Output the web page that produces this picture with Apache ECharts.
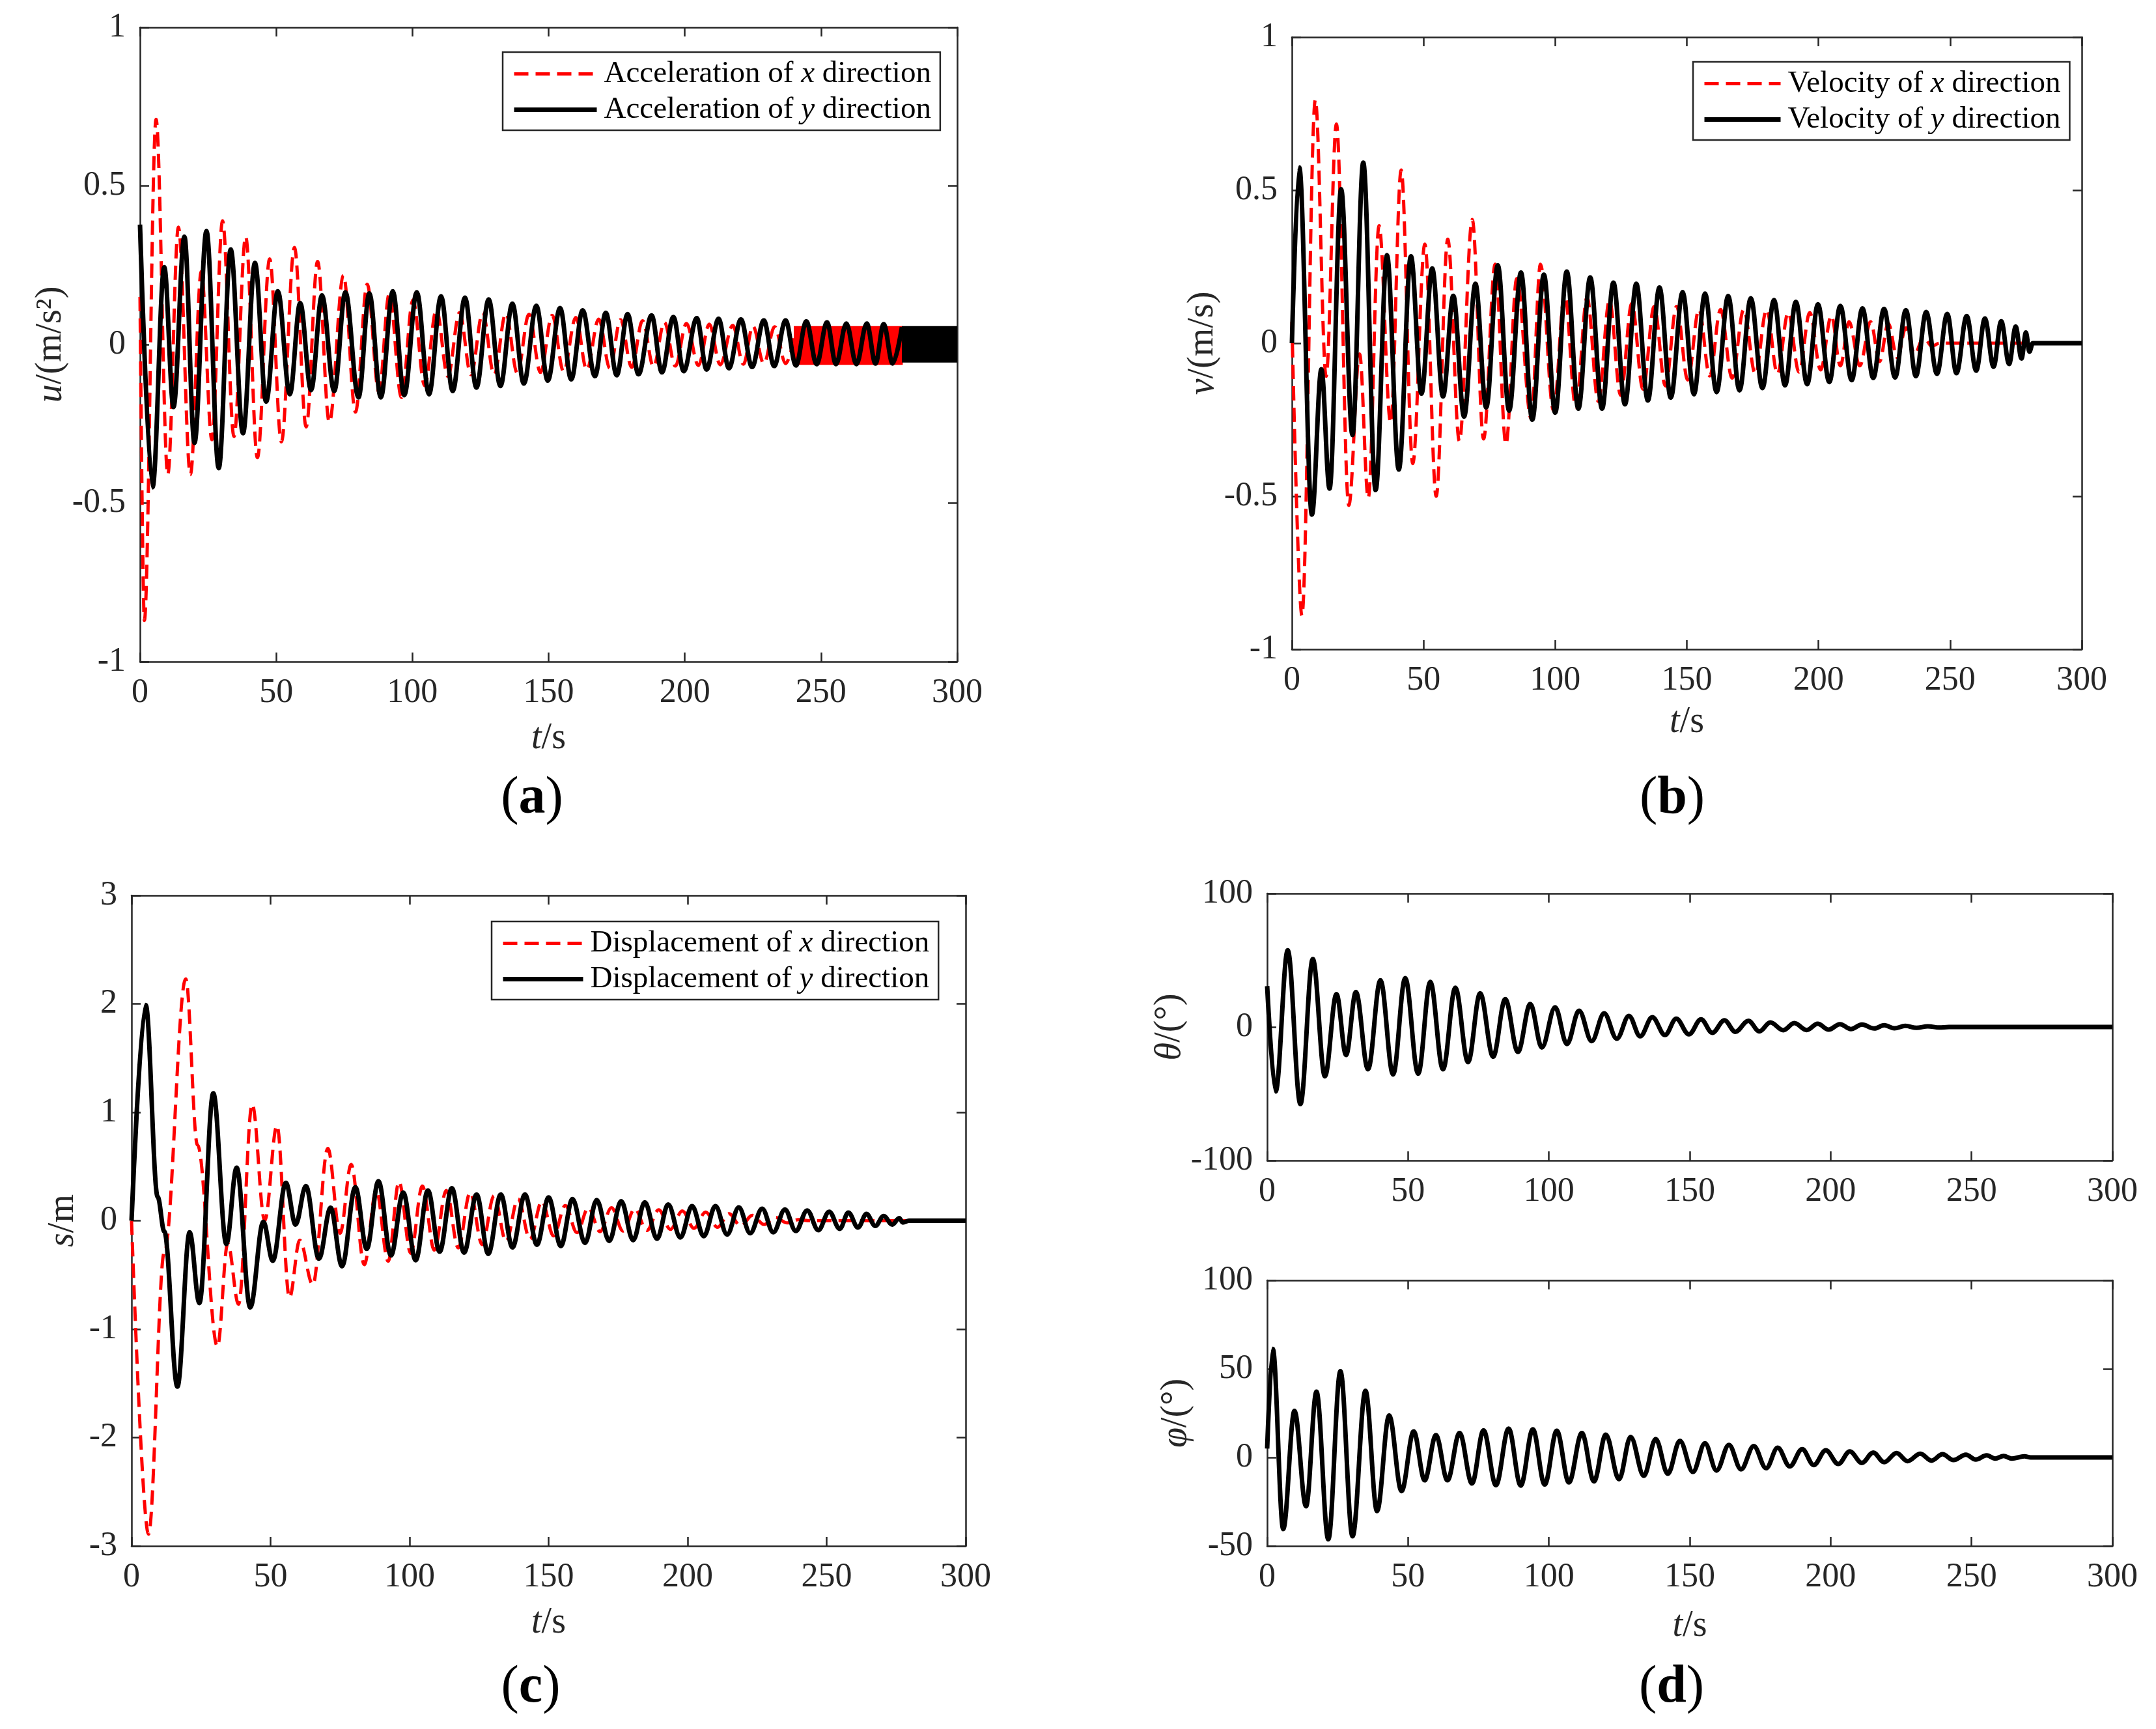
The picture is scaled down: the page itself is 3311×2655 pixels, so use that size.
<!DOCTYPE html>
<html>
<head>
<meta charset="utf-8">
<script src="https://cdn.jsdelivr.net/npm/echarts@6/dist/echarts.min.js"></script>
<style>
  html, body { margin: 0; padding: 0; background: #fff; }
  #main { width: 3311px; height: 2655px; }
</style>
</head>
<body>
<div id="main"></div>
<script>
// time axis ticks (s)
var timeTicks = [0, 50, 100, 150, 200, 250, 300];

// (a) acceleration, extrema
var accYTime = [0, 4.6, 8.9, 12.3, 16.3, 20.0, 24.4, 28.9, 33.3, 37.8,
  42.2, 46.3, 50.6, 55.0, 58.8, 62.8, 66.8, 71.3, 75.4, 80.2,
  84.2, 88.4, 92.8, 97.0, 101.6, 106.1, 110.5, 114.8, 119.3, 123.5,
  128.0, 132.3, 136.7, 140.9, 145.5, 149.7, 154.2, 158.3, 162.5, 167.0,
  171.0, 175.0, 179.0, 183.0, 187.8, 191.6, 195.8, 199.6, 204.4, 208.0,
  212.4, 216.2, 220.6, 224.7, 229.0, 232.8, 237.0, 240.8, 244.6, 248.4,
  252.2, 255.5, 259.3, 263.0, 266.8, 270.0, 273.0, 276.3, 279.7];
var accYVal = [0.378, -0.45, 0.244, -0.197, 0.34, -0.31, 0.358, -0.39, 0.30, -0.28,
  0.257, -0.18, 0.168, -0.157, 0.131, -0.144, 0.155, -0.147, 0.165, -0.167,
  0.161, -0.167, 0.168, -0.16, 0.165, -0.157, 0.152, -0.147, 0.148, -0.136,
  0.142, -0.131, 0.129, -0.123, 0.122, -0.114, 0.115, -0.11, 0.108, -0.10,
  0.10, -0.097, 0.096, -0.094, 0.092, -0.088, 0.087, -0.084, 0.083, -0.079,
  0.081, -0.075, 0.079, -0.071, 0.076, -0.068, 0.076, -0.066, 0.073, -0.062,
  0.07, -0.062, 0.066, -0.062, 0.066, -0.06, 0.064, -0.06, 0.055];
var accXTime = [0, 1.6, 5.9, 10.2, 14.1, 18.5, 22.5, 26.4, 30.3, 34.5,
  38.8, 43.1, 47.6, 51.9, 56.7, 61.0, 65.2, 69.5, 74.7, 79.1,
  83.4, 87.7, 91.5, 96.0, 100.2, 104.5, 108.8, 113.0, 117.3, 121.5,
  125.8, 130.0, 134.3, 138.5, 142.8, 147.0, 151.3, 155.5, 160.0, 164.0,
  168.4, 172.5, 176.4, 180.5, 184.5, 188.5, 192.5, 196.5, 200.6, 205.0,
  209.0, 213.0, 217.6, 221.5, 225.0, 229.0, 233.0, 237.0, 241.0];
var accXVal = [0.15, -0.87, 0.71, -0.41, 0.37, -0.41, 0.23, -0.30, 0.39, -0.29,
  0.34, -0.357, 0.27, -0.307, 0.306, -0.26, 0.262, -0.245, 0.218, -0.213,
  0.19, -0.15, 0.16, -0.167, 0.14, -0.13, 0.11, -0.10, 0.10, -0.095,
  0.10, -0.095, 0.098, -0.09, 0.095, -0.088, 0.092, -0.085, 0.085, -0.08,
  0.08, -0.075, 0.078, -0.072, 0.075, -0.07, 0.07, -0.068, 0.066, -0.066,
  0.064, -0.064, 0.06, -0.062, 0.058, -0.06, 0.056, -0.06, 0.055];
// dense end parts that print as solid bands
var accXBandTime = [240, 280];
var accXBandEdge = [0.056, -0.062];
var accYBandTime = [279.7, 300];
var accYBandEdge = [0.056, -0.055];

// (b) velocity
var velYTime = [0, 2.8, 7.6, 11.2, 14.3, 18.7, 23.0, 27.1, 31.8, 36.1,
  40.6, 45.2, 49.2, 53.3, 57.4, 61.3, 65.4, 69.7, 73.8, 78.2,
  82.5, 87.0, 91.3, 95.7, 100.0, 104.4, 108.8, 113.3, 117.8, 122.1,
  126.5, 130.8, 135.2, 139.6, 143.9, 148.4, 152.7, 156.9, 161.3, 165.7,
  170.0, 174.3, 178.7, 183.1, 187.3, 191.4, 195.7, 199.8, 204.1, 208.3,
  212.6, 216.7, 220.8, 224.9, 229.1, 233.2, 237.0, 240.9, 245.0, 248.9,
  252.4, 256.3, 259.9, 263.2, 266.5, 269.4, 272.4, 274.9, 277.1, 278.8,
  280.1, 281.4, 300];
var velYVal = [0, 0.574, -0.56, -0.085, -0.475, 0.503, -0.30, 0.59, -0.48, 0.288,
  -0.413, 0.284, -0.165, 0.244, -0.174, 0.155, -0.24, 0.194, -0.21, 0.254,
  -0.22, 0.231, -0.25, 0.224, -0.227, 0.234, -0.214, 0.215, -0.214, 0.198,
  -0.20, 0.194, -0.187, 0.182, -0.178, 0.167, -0.167, 0.162, -0.16, 0.154,
  -0.154, 0.147, -0.147, 0.141, -0.138, 0.135, -0.134, 0.127, -0.127, 0.122,
  -0.121, 0.114, -0.114, 0.112, -0.112, 0.108, -0.108, 0.102, -0.10, 0.096,
  -0.098, 0.089, -0.09, 0.081, -0.077, 0.072, -0.068, 0.054, -0.05, 0.035,
  -0.028, 0, 0];
var velXTime = [0, 3.8, 8.9, 13.0, 16.9, 21.6, 25.7, 29.0, 33.1, 37.5,
  41.5, 45.9, 50.5, 54.8, 59.2, 63.6, 68.5, 72.8, 77.2, 81.3,
  85.4, 90.9, 94.4, 99.35, 103.6, 107.85, 112.1, 116.35, 120.6, 124.85,
  129.1, 133.35, 137.6, 141.85, 146.1, 150.35, 154.6, 158.7, 162.8, 167.2,
  171.6, 176.0, 180.3, 184.4, 188.5, 192.6, 196.7, 200.8, 204.9, 208.3,
  211.6, 215.7, 219.8, 223.2, 226.5, 229.9, 233.2, 236.5, 240.0, 243.0,
  246.0, 300];
var velXVal = [0.07, -0.89, 0.795, -0.108, 0.716, -0.53, -0.035, -0.506, 0.384, -0.26,
  0.566, -0.393, 0.324, -0.5, 0.34, -0.32, 0.404, -0.313, 0.258, -0.33,
  0.211, -0.247, 0.258, -0.22, 0.16, -0.21, 0.15, -0.19, 0.14, -0.17,
  0.13, -0.15, 0.12, -0.14, 0.12, -0.12, 0.11, -0.107, 0.11, -0.114,
  0.11, -0.10, 0.11, -0.10, 0.10, -0.094, 0.10, -0.087, 0.09, -0.074,
  0.07, -0.074, 0.07, -0.06, 0.065, -0.047, 0.05, -0.035, 0.02, -0.01,
  0, 0];

// (c) displacement
var dispYTime = [0, 5.1, 9.4, 11.8, 16.5, 20.9, 24.4, 29.4, 34.1, 37.8,
  42.7, 47.4, 50.8, 55.5, 59.0, 62.7, 67.4, 71.6, 75.7, 80.5,
  84.6, 88.8, 93.3, 97.7, 102.2, 106.6, 110.8, 115.2, 119.6, 124.1,
  128.3, 132.8, 137.0, 141.5, 145.8, 150.0, 154.4, 158.6, 163.1, 167.3,
  171.8, 176.1, 180.4, 184.6, 189.0, 193.0, 197.4, 201.6, 205.8, 210.0,
  214.2, 218.4, 222.5, 226.8, 230.8, 235.0, 238.9, 243.0, 247.0, 250.9,
  254.7, 257.8, 261.3, 264.3, 267.5, 270.5, 273.6, 276.1, 277.4, 279.6,
  300];
var dispYVal = [0, 1.99, 0.22, -0.1, -1.53, -0.107, -0.76, 1.175, -0.214, 0.49,
  -0.80, -0.01, -0.37, 0.35, -0.036, 0.32, -0.35, 0.12, -0.42, 0.31,
  -0.26, 0.365, -0.32, 0.26, -0.365, 0.28, -0.286, 0.30, -0.294, 0.242,
  -0.306, 0.242, -0.246, 0.242, -0.222, 0.214, -0.234, 0.2, -0.206, 0.19,
  -0.187, 0.18, -0.18, 0.17, -0.167, 0.15, -0.155, 0.135, -0.143, 0.135,
  -0.127, 0.123, -0.115, 0.111, -0.107, 0.103, -0.095, 0.095, -0.087, 0.083,
  -0.075, 0.075, -0.063, 0.063, -0.048, 0.044, -0.036, 0.024, -0.016, 0,
  0];
var dispXTime = [0, 6.1, 11.8, 19.5, 23.7, 30.9, 34.6, 38.5, 43.4, 47.9,
  52.3, 56.8, 60.5, 65.2, 70.6, 75.0, 79.0, 83.7, 88.0, 92.3,
  96.2, 100.4, 104.6, 108.9, 113.2, 117.5, 121.8, 126.1, 130.4, 134.7,
  139.0, 143.3, 147.6, 151.8, 156.0, 160.2, 164.3, 168.5, 172.6, 176.8,
  181.0, 185.3, 189.6, 193.8, 198.1, 202.3, 206.5, 210.7, 214.9, 219.1,
  223.3, 227.5, 231.6, 235.8, 240.0, 244.0, 300];
var dispXVal = [0, -2.89, -0.29, 2.23, 0.7, -1.16, -0.21, -0.77, 1.075, 0.0,
  0.877, -0.71, -0.18, -0.59, 0.667, -0.115, 0.52, -0.405, 0.28, -0.373,
  0.36, -0.3, 0.32, -0.27, 0.28, -0.25, 0.26, -0.22, 0.23, -0.19,
  0.2, -0.17, 0.18, -0.14, 0.14, -0.11, 0.12, -0.1, 0.12, -0.095,
  0.11, -0.09, 0.1, -0.08, 0.09, -0.07, 0.08, -0.06, 0.065, -0.05,
  0.05, -0.035, 0.03, -0.02, 0.01, 0, 0];

// (d) angles (deg)
var thetaTime = [0, 3, 7.3, 11.8, 16.2, 20.5, 24.6, 28, 31.5, 35.8,
  40.2, 44.7, 49, 53.6, 57.9, 62.4, 66.8, 71.3, 75.6, 80.2,
  84.5, 89, 93.4, 97.5, 102.2, 106.4, 110.7, 115.2, 119.6, 124.1,
  128.4, 132.4, 136.7, 141.2, 145.2, 149.7, 154, 158, 162.3, 166.2,
  170.8, 174.7, 178.6, 183.2, 187.1, 191.5, 195.4, 199.3, 203.3, 207.2,
  211.1, 215.5, 219, 222.6, 226.5, 230.5, 234.5, 238.5, 242, 300];
var thetaVal = [30.6, -48.3, 57.4, -57.7, 50.9, -36.9, 24.6, -21, 26.2, -31.7,
  35, -35.6, 36.6, -35, 33.8, -31.7, 29.4, -26.3, 25.2, -22.3,
  20.8, -18.7, 17.2, -15.4, 14.8, -12.8, 12.2, -10.6, 10.2, -8.8,
  8.3, -7, 7.3, -6, 6.2, -5.5, 5.7, -4.4, 5, -3.6,
  4.6, -3.3, 3.4, -2.4, 2.9, -2.3, 2.4, -2, 2.1, -1.6,
  1.8, -1.1, 1.3, -1, 0.8, -0.6, 0.5, -0.4, 0, 0];
var phiTime = [0, 2, 5.7, 9.7, 13.8, 17.5, 21.7, 26, 30.3, 34.9,
  39, 43.3, 47.7, 52, 55.9, 59.9, 64, 68.3, 72.7, 76.8,
  81.2, 85.7, 90, 94.3, 98.5, 102.8, 107.1, 111.7, 116, 120.2,
  124.9, 129, 133.7, 137.9, 142.2, 146.5, 151.1, 155.4, 159.5, 163.9,
  168.2, 172.7, 177.1, 181.2, 185.5, 189.9, 194, 198.3, 202.7, 206.8,
  211.1, 215.1, 219, 223.4, 227.3, 231.8, 235.8, 239.7, 243.6, 248,
  251.5, 255.4, 258.4, 261.4, 264.3, 268.8, 271, 300];
var phiVal = [5, 61.3, -40.4, 26.3, -27.6, 37.1, -46.2, 48.7, -44.5, 37.6,
  -30.3, 23.7, -19, 14.7, -12.9, 12.6, -12.9, 13.8, -14.7, 15.3,
  -15.7, 16.3, -15.9, 15.9, -15.3, 15.1, -14.1, 13.8, -13.5, 12.9,
  -12.3, 11.6, -10.4, 10.4, -9.2, 9.4, -8.2, 8, -7.4, 7.1,
  -6.7, 6.4, -6.1, 5.5, -5.1, 4.7, -4.3, 4, -3.7, 3.4,
  -3.1, 2.8, -2.7, 2.5, -2.1, 2.1, -1.8, 1.8, -1.5, 1.6,
  -1.2, 1.2, -0.6, 0.8, -0.6, 0.6, 0, 0];

var FONT = '"Liberation Serif", "Times New Roman", serif';
var AXIS = '#262626';
var RED = '#ff0000';
var BLACK = '#000000';
var RED_W = 5, BLACK_W = 7;

function pairs(ts, vs) {
  return ts.map(function (t, i) { return [t, vs[i]]; });
}
function flat(ts, v) {
  return ts.map(function (t) { return [t, v]; });
}

var myChart = echarts.init(document.getElementById('main'), null, { renderer: 'canvas' });

var grids = [], xAxes = [], yAxes = [], series = [];

var italic = { fontStyle: 'italic', fontFamily: FONT, fontSize: 56, color: '#262626' };

function addPanel(p) {
  var gi = grids.length;
  grids.push({ left: p.left, top: p.top, width: p.width, height: p.height, containLabel: false, outerBoundsMode: 'none' });
  var line = { show: true, onZero: false, lineStyle: { color: AXIS, width: 2.5 } };
  var tick = { show: true, inside: true, length: 14, lineStyle: { color: AXIS, width: 2.5 } };
  var label = { fontSize: 52, fontFamily: FONT, color: '#262626', margin: 22 };
  xAxes.push({
    gridIndex: gi, type: 'value', position: 'bottom',
    min: timeTicks[0], max: timeTicks[timeTicks.length - 1], interval: 50,
    axisLine: line, axisTick: tick, axisLabel: label, splitLine: { show: false },
    name: p.xName || '', nameLocation: 'middle', nameGap: p.xGap || 90,
    nameTextStyle: { fontSize: 56, fontFamily: FONT, color: '#262626', rich: { i: italic } }
  });
  xAxes.push({
    gridIndex: gi, type: 'value', position: 'top',
    min: 0, max: 300, interval: 50,
    axisLine: line, axisTick: tick, axisLabel: { show: false }, splitLine: { show: false }
  });
  yAxes.push({
    gridIndex: gi, type: 'value', position: 'left',
    min: p.yMin, max: p.yMax, interval: p.yStep,
    axisLine: line, axisTick: tick, axisLabel: label, splitLine: { show: false },
    name: p.yName, nameLocation: 'middle', nameRotate: 90, nameGap: p.yGap,
    nameTextStyle: { fontSize: 56, fontFamily: FONT, color: '#262626', rich: { i: italic } }
  });
  yAxes.push({
    gridIndex: gi, type: 'value', position: 'right',
    min: p.yMin, max: p.yMax, interval: p.yStep,
    axisLine: line, axisTick: tick, axisLabel: { show: false }, splitLine: { show: false }
  });
  return gi;
}

function curve(gi, name, data, color, dashed, width) {
  series.push({
    name: name, type: 'line', xAxisIndex: gi * 2, yAxisIndex: gi * 2,
    data: data, symbol: 'none', showSymbol: false,
    smooth: 0.36, smoothMonotone: 'x',
    lineStyle: { color: color, width: width, type: dashed ? [22, 11] : 'solid' },
    itemStyle: { color: color },
    z: dashed ? 2 : 3, animation: false
  });
}

function band(gi, name, ts, edges, color, z) {
  edges.forEach(function (v, k) {
    series.push({
      name: name + k, type: 'line', xAxisIndex: gi * 2, yAxisIndex: gi * 2,
      data: flat(ts, v), symbol: 'none', showSymbol: false,
      lineStyle: { color: color, width: 2 },
      areaStyle: { color: color, opacity: 1, origin: 0 },
      z: z, animation: false
    });
  });
}

// (a)
var ga = addPanel({ left: 215, top: 42, width: 1255, height: 974, yMin: -1, yMax: 1, yStep: 0.5,
  xName: '{i|t}/s', xGap: 90, yName: '{i|u}/(m/s²)', yGap: 106 });
band(ga, 'accXBand', accXBandTime, accXBandEdge, RED, 1);
curve(ga, 'Acceleration of x direction', pairs(accXTime, accXVal), RED, true, RED_W);
curve(ga, 'Acceleration of y direction', pairs(accYTime, accYVal), BLACK, false, BLACK_W);
band(ga, 'accYBand', accYBandTime, accYBandEdge, BLACK, 4);

// (b)
var gb = addPanel({ left: 1984, top: 57, width: 1213, height: 940, yMin: -1, yMax: 1, yStep: 0.5,
  xName: '{i|t}/s', xGap: 84, yName: '{i|v}/(m/s)', yGap: 104 });
curve(gb, 'Velocity of x direction', pairs(velXTime, velXVal), RED, true, RED_W);
curve(gb, 'Velocity of y direction', pairs(velYTime, velYVal), BLACK, false, BLACK_W);

// (c)
var gc = addPanel({ left: 202, top: 1375, width: 1281, height: 999, yMin: -3, yMax: 3, yStep: 1,
  xName: '{i|t}/s', xGap: 90, yName: '{i|s}/m', yGap: 77 });
curve(gc, 'Displacement of x direction', pairs(dispXTime, dispXVal), RED, true, RED_W);
curve(gc, 'Displacement of y direction', pairs(dispYTime, dispYVal), BLACK, false, BLACK_W);

// (d)
var gd1 = addPanel({ left: 1946, top: 1372, width: 1298, height: 410, yMin: -100, yMax: 100, yStep: 100,
  yName: '{i|θ}/(°)', yGap: 112 });
curve(gd1, 'theta', pairs(thetaTime, thetaVal), BLACK, false, BLACK_W);
var gd2 = addPanel({ left: 1946, top: 1966, width: 1298, height: 408, yMin: -50, yMax: 100, yStep: 50,
  xName: '{i|t}/s', xGap: 95, yName: '{i|φ}/(°)', yGap: 112 });
curve(gd2, 'phi', pairs(phiTime, phiVal), BLACK, false, BLACK_W);

function legendFor(names, left, top, itemWidth) {
  return {
    data: [
      { name: names[0], lineStyle: { width: RED_W }, itemStyle: { opacity: 0 } },
      { name: names[1], lineStyle: { width: BLACK_W }, itemStyle: { opacity: 0 } }
    ],
    orient: 'vertical', left: left, top: top,
    itemWidth: itemWidth, itemHeight: 24, itemGap: 8,
    padding: [10, 14, 8, 14],
    backgroundColor: '#fff', borderColor: AXIS, borderWidth: 2.5, borderRadius: 0,
    selectedMode: false,
    formatter: function (n) { return n.replace(' x ', ' {i|x} ').replace(' y ', ' {i|y} '); },
    textStyle: { fontSize: 47, fontFamily: FONT, color: '#000', padding: [0, 0, 0, 6],
      rich: { i: { fontStyle: 'italic', fontSize: 47, fontFamily: FONT, color: '#000' } } }
  };
}

var legends = [
  legendFor(['Acceleration of x direction', 'Acceleration of y direction'], 772, 80, 127),
  legendFor(['Velocity of x direction', 'Velocity of y direction'], 2600, 95, 117),
  legendFor(['Displacement of x direction', 'Displacement of y direction'], 755, 1415, 123)
];

function panelLabel(ch, x, y) {
  return {
    type: 'text', x: x, y: y, z: 10,
    style: {
      text: '{p|(}{b|' + ch + '}{p|)}',
      align: 'center', verticalAlign: 'middle',
      fontSize: 82, fontFamily: FONT, fill: '#000',
      rich: {
        p: { fontSize: 82, fontFamily: FONT, color: '#000' },
        b: { fontSize: 82, fontFamily: FONT, fontWeight: 'bold', color: '#000' }
      }
    }
  };
}

var option = {
  backgroundColor: '#ffffff',
  animation: false,
  grid: grids,
  xAxis: xAxes,
  yAxis: yAxes,
  legend: legends,
  series: series,
  graphic: [
    panelLabel('a', 817, 1227),
    panelLabel('b', 2568, 1227),
    panelLabel('c', 815, 2592),
    panelLabel('d', 2567, 2592)
  ]
};
myChart.setOption(option, true);
</script>
</body>
</html>
